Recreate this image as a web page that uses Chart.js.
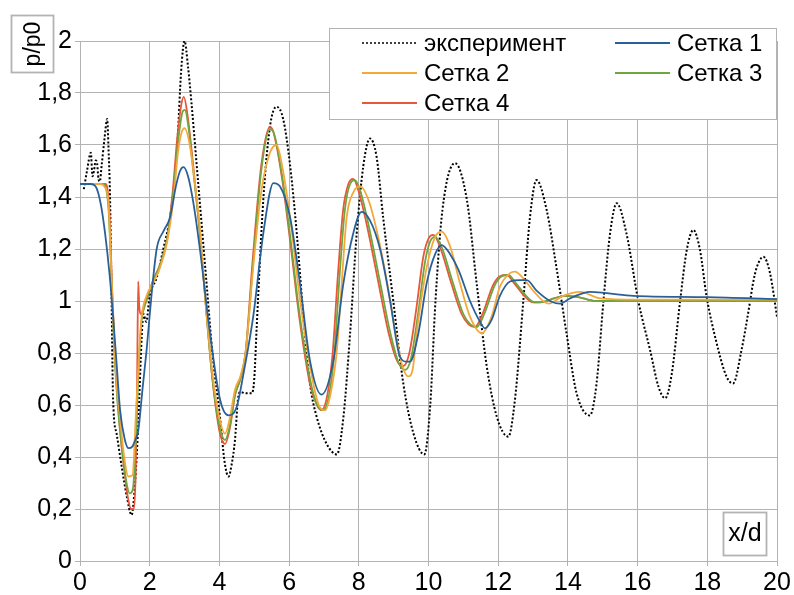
<!DOCTYPE html>
<html>
<head>
<meta charset="utf-8">
<script src="https://cdn.jsdelivr.net/npm/chart.js@4"></script>
<style>
  html, body { margin: 0; padding: 0; background: #fff; }
  canvas { display: block; }
</style>
</head>
<body>
<canvas id="pressureChart" width="794" height="595"></canvas>
<script>
// experiment (dotted black)
const expX = [0.11, 0.2, 0.31, 0.36, 0.4, 0.45, 0.49, 0.53, 0.57, 0.62, 0.7, 0.78, 0.82, 0.86, 0.9, 0.95, 1.05, 1.2, 1.34, 1.48, 1.58, 1.67, 1.77, 1.82, 1.9, 2.0, 2.2, 2.39, 2.58, 2.7, 2.8, 2.9, 3.0, 3.1, 3.2, 3.35, 3.5, 3.63, 3.8, 4.02, 4.15, 4.26, 4.35, 4.45, 4.53, 4.6, 4.75, 4.93, 5.0, 5.07, 5.26, 5.45, 5.64, 5.83, 6.03, 6.22, 6.41, 6.6, 6.79, 7.08, 7.37, 7.56, 7.75, 7.94, 8.13, 8.32, 8.51, 8.7, 8.99, 9.28, 9.57, 9.88, 10.05, 10.2, 10.4, 10.76, 11.1, 11.38, 11.67, 11.96, 12.29, 12.48, 12.72, 12.91, 13.1, 13.39, 13.67, 13.96, 14.25, 14.63, 14.82, 15.02, 15.21, 15.4, 15.68, 16.02, 16.36, 16.6, 16.79, 16.98, 17.22, 17.41, 17.6, 17.79, 17.98, 18.27, 18.55, 18.74, 18.98, 19.23, 19.3, 19.42, 19.61, 19.8, 20.0];
const expY = [1.43, 1.50, 1.57, 1.48, 1.50, 1.54, 1.53, 1.47, 1.46, 1.52, 1.62, 1.70, 1.58, 1.41, 1.07, 0.62, 0.49, 0.36, 0.25, 0.177, 0.30, 0.52, 0.86, 0.95, 0.92, 1.02, 1.09, 1.20, 1.32, 1.45, 1.62, 1.88, 2.0, 1.9, 1.76, 1.52, 1.28, 1.07, 0.8, 0.55, 0.38, 0.325, 0.37, 0.47, 0.62, 0.65, 0.645, 0.645, 0.7, 0.9, 1.39, 1.67, 1.747, 1.70, 1.52, 1.26, 0.94, 0.68, 0.555, 0.45, 0.41, 0.555, 0.876, 1.26, 1.52, 1.625, 1.555, 1.32, 1.0, 0.68, 0.49, 0.41, 0.6, 1.0, 1.35, 1.53, 1.39, 1.07, 0.75, 0.555, 0.478, 0.62, 1.0, 1.32, 1.465, 1.35, 1.13, 0.876, 0.645, 0.56, 0.68, 1.0, 1.26, 1.376, 1.26, 1.0, 0.81, 0.67, 0.626, 0.72, 1.0, 1.196, 1.273, 1.196, 1.017, 0.837, 0.71, 0.683, 0.81, 1.0, 1.06, 1.13, 1.17, 1.107, 0.94];

// Сетка 1 (blue)
const grid1X = [0, 0.3, 0.45, 0.6, 0.72, 0.85, 0.95, 1.05, 1.15, 1.28, 1.39, 1.5, 1.6, 1.67, 1.8, 1.91, 2.05, 2.2, 2.4, 2.58, 2.75, 2.87, 2.97, 3.1, 3.25, 3.44, 3.73, 4.02, 4.26, 4.5, 4.69, 4.97, 5.26, 5.55, 5.74, 6.03, 6.31, 6.6, 6.93, 7.27, 7.56, 7.84, 8.08, 8.32, 8.61, 8.9, 9.18, 9.37, 9.47, 9.71, 9.95, 10.19, 10.38, 10.62, 10.86, 11.19, 11.48, 11.62, 11.81, 12.05, 12.34, 12.63, 12.82, 13.1, 13.49, 13.77, 14.06, 14.44, 14.63, 15.11, 15.88, 18.0, 20.0];
const grid1Y = [1.45, 1.45, 1.44, 1.37, 1.26, 1.1, 0.94, 0.76, 0.58, 0.47, 0.434, 0.44, 0.47, 0.5, 0.67, 0.81, 1.02, 1.2, 1.27, 1.32, 1.44, 1.5, 1.515, 1.48, 1.38, 1.2, 0.876, 0.62, 0.56, 0.594, 0.72, 0.94, 1.26, 1.453, 1.44, 1.32, 1.07, 0.77, 0.64, 0.77, 1.07, 1.26, 1.343, 1.31, 1.2, 1.0, 0.786, 0.767, 0.767, 0.876, 1.07, 1.18, 1.215, 1.18, 1.12, 1.0, 0.92, 0.895, 0.927, 1.02, 1.075, 1.08, 1.08, 1.04, 1.0, 0.99, 1.01, 1.03, 1.035, 1.03, 1.02, 1.015, 1.007];

// Сетка 2 (orange)
const grid2X = [0, 0.6, 0.7, 0.81, 0.88, 0.95, 1.05, 1.15, 1.24, 1.39, 1.51, 1.6, 1.7, 1.77, 1.91, 2.1, 2.3, 2.49, 2.68, 2.82, 2.92, 3.0, 3.15, 3.3, 3.44, 3.6, 3.8, 4.0, 4.16, 4.3, 4.45, 4.6, 4.75, 4.97, 5.2, 5.45, 5.64, 5.8, 6.03, 6.3, 6.6, 6.85, 7.03, 7.2, 7.37, 7.5, 7.65, 7.85, 8.05, 8.3, 8.55, 8.8, 9.05, 9.25, 9.42, 9.55, 9.66, 9.95, 10.19, 10.38, 10.62, 10.9, 11.19, 11.53, 11.81, 12.05, 12.34, 12.48, 12.72, 13.0, 13.44, 13.86, 14.35, 14.92, 16.0, 20.0];
const grid2Y = [1.45, 1.45, 1.44, 1.39, 1.18, 0.94, 0.68, 0.55, 0.43, 0.325, 0.33, 0.555, 0.81, 0.94, 1.02, 1.07, 1.13, 1.22, 1.39, 1.58, 1.65, 1.665, 1.6, 1.45, 1.28, 1.0, 0.72, 0.55, 0.49, 0.55, 0.66, 0.71, 0.8, 1.13, 1.42, 1.57, 1.6, 1.52, 1.32, 1.02, 0.75, 0.6, 0.58, 0.65, 0.81, 1.05, 1.32, 1.42, 1.44, 1.38, 1.25, 1.08, 0.88, 0.75, 0.71, 0.74, 0.876, 1.13, 1.247, 1.267, 1.21, 1.07, 0.94, 0.876, 0.94, 1.055, 1.107, 1.113, 1.087, 1.04, 0.99, 1.02, 1.035, 1.01, 1.005, 1.005];

// Сетка 3 (green)
const grid3X = [0, 0.65, 0.75, 0.82, 0.9, 0.97, 1.05, 1.15, 1.25, 1.35, 1.43, 1.52, 1.6, 1.67, 1.75, 1.85, 1.95, 2.1, 2.3, 2.5, 2.68, 2.82, 2.95, 3.01, 3.1, 3.25, 3.44, 3.6, 3.8, 4.0, 4.16, 4.3, 4.45, 4.6, 4.75, 4.97, 5.2, 5.45, 5.55, 5.8, 6.03, 6.3, 6.6, 6.8, 6.98, 7.15, 7.3, 7.45, 7.6, 7.75, 7.89, 8.05, 8.3, 8.6, 8.9, 9.15, 9.33, 9.5, 9.7, 9.9, 10.05, 10.19, 10.4, 10.7, 11.0, 11.2, 11.38, 11.6, 11.9, 12.1, 12.29, 12.5, 12.8, 13.05, 13.3, 13.6, 13.9, 14.3, 14.8, 20.0];
const grid3Y = [1.45, 1.45, 1.43, 1.35, 1.1, 0.85, 0.66, 0.5, 0.38, 0.29, 0.26, 0.28, 0.45, 0.7, 0.9, 0.98, 1.02, 1.08, 1.14, 1.24, 1.42, 1.62, 1.73, 1.735, 1.68, 1.5, 1.26, 1.0, 0.7, 0.52, 0.465, 0.52, 0.64, 0.7, 0.8, 1.15, 1.5, 1.66, 1.65, 1.48, 1.25, 0.95, 0.7, 0.6, 0.58, 0.64, 0.8, 1.1, 1.35, 1.45, 1.465, 1.42, 1.28, 1.08, 0.88, 0.76, 0.735, 0.78, 0.95, 1.15, 1.23, 1.247, 1.2, 1.07, 0.95, 0.91, 0.9, 0.95, 1.06, 1.095, 1.1, 1.07, 1.02, 0.995, 0.997, 1.01, 1.02, 1.015, 1.0, 1.0];

// Сетка 4 (red)
const grid4X = [0, 0.72, 0.8, 0.86, 0.92, 1.0, 1.08, 1.18, 1.28, 1.38, 1.47, 1.55, 1.6, 1.64, 1.67, 1.7, 1.74, 1.85, 1.95, 2.1, 2.3, 2.5, 2.66, 2.8, 2.9, 2.98, 3.08, 3.25, 3.44, 3.6, 3.8, 4.0, 4.16, 4.3, 4.45, 4.6, 4.75, 4.95, 5.2, 5.45, 5.55, 5.8, 6.03, 6.3, 6.6, 6.8, 6.93, 7.1, 7.25, 7.4, 7.55, 7.7, 7.84, 8.0, 8.25, 8.55, 8.85, 9.1, 9.28, 9.45, 9.65, 9.85, 10.0, 10.14, 10.35, 10.65, 10.95, 11.15, 11.33, 11.55, 11.85, 12.05, 12.25, 12.45, 12.75, 13.0, 13.3, 13.6, 13.9, 14.3, 14.8, 20.0];
const grid4Y = [1.45, 1.45, 1.42, 1.3, 1.05, 0.8, 0.62, 0.46, 0.34, 0.24, 0.2, 0.2, 0.35, 0.7, 1.075, 0.98, 0.95, 0.98, 1.02, 1.08, 1.14, 1.24, 1.42, 1.64, 1.75, 1.785, 1.72, 1.52, 1.26, 1.0, 0.7, 0.5, 0.45, 0.51, 0.64, 0.7, 0.8, 1.15, 1.52, 1.67, 1.65, 1.47, 1.23, 0.93, 0.68, 0.6, 0.58, 0.64, 0.8, 1.1, 1.35, 1.45, 1.47, 1.42, 1.28, 1.08, 0.88, 0.77, 0.75, 0.8, 0.97, 1.17, 1.24, 1.254, 1.2, 1.07, 0.95, 0.91, 0.9, 0.95, 1.06, 1.095, 1.1, 1.07, 1.02, 0.995, 0.997, 1.01, 1.02, 1.015, 1.0, 1.0];

const seriesNames = ['эксперимент', 'Сетка 1', 'Сетка 2', 'Сетка 3', 'Сетка 4'];
const seriesColors = ['#000000', '#2a6099', '#f5a83a', '#6fa640', '#e8573a'];
const xTicks = [0, 2, 4, 6, 8, 10, 12, 14, 16, 18, 20];

const FONT = '"Liberation Sans", Arial, sans-serif';
const GRID = '#b3b3b3';

function toPoints(xs, ys) {
  return xs.map((x, i) => ({ x: x, y: ys[i] }));
}

// legend box + axis title boxes, drawn by hand like the LibreOffice chart
const boxesPlugin = {
  id: 'boxes',
  afterDraw(chart) {
    const ctx = chart.ctx;
    ctx.save();

    // legend
    ctx.fillStyle = '#fff';
    ctx.fillRect(329, 28, 447, 91);
    ctx.strokeStyle = GRID;
    ctx.lineWidth = 1;
    ctx.strokeRect(329.5, 28.5, 447, 91);

    const entries = [
      { i: 0, x: 362, y: 43 },
      { i: 1, x: 615, y: 43 },
      { i: 2, x: 362, y: 73 },
      { i: 3, x: 615, y: 73 },
      { i: 4, x: 362, y: 103 }
    ];
    ctx.font = '24px ' + FONT;
    ctx.textBaseline = 'middle';
    entries.forEach(e => {
      ctx.beginPath();
      ctx.strokeStyle = seriesColors[e.i];
      ctx.lineWidth = e.i === 0 ? 1.5 : 1.8;
      ctx.setLineDash(e.i === 0 ? [2, 2] : []);
      ctx.moveTo(e.x, e.y);
      ctx.lineTo(e.x + 55, e.y);
      ctx.stroke();
      ctx.setLineDash([]);
      ctx.fillStyle = '#000';
      ctx.textAlign = 'left';
      ctx.fillText(seriesNames[e.i], e.x + 62, e.y + 1);
    });

    // y axis title p/p0
    ctx.fillStyle = '#fff';
    ctx.fillRect(11, 15, 42, 57);
    ctx.strokeStyle = GRID;
    ctx.strokeRect(11.5, 15.5, 42, 57);
    ctx.save();
    ctx.translate(33, 44);
    ctx.rotate(-Math.PI / 2);
    ctx.fillStyle = '#000';
    ctx.textAlign = 'center';
    ctx.font = '23px ' + FONT;
    ctx.fillText('p/p0', 0, 1);
    ctx.restore();

    // x axis title x/d
    ctx.fillStyle = '#fff';
    ctx.fillRect(723, 512, 43, 43);
    ctx.strokeStyle = GRID;
    ctx.strokeRect(723.5, 512.5, 43, 43);
    ctx.fillStyle = '#000';
    ctx.textAlign = 'center';
    ctx.font = '25px ' + FONT;
    ctx.fillText('x/d', 745, 534);

    ctx.restore();
  }
};

document.addEventListener('DOMContentLoaded', () => {
  const canvas = document.getElementById('pressureChart');
  if (!canvas) return;
  const ctx = canvas.getContext('2d');

  const lineSets = [
    { xs: grid1X, ys: grid1Y, i: 1 },
    { xs: grid2X, ys: grid2Y, i: 2 },
    { xs: grid3X, ys: grid3Y, i: 3 },
    { xs: grid4X, ys: grid4Y, i: 4 }
  ].map(s => ({
    label: seriesNames[s.i],
    data: toPoints(s.xs, s.ys),
    borderColor: seriesColors[s.i],
    borderWidth: 1.8,
    pointRadius: 0,
    cubicInterpolationMode: 'monotone',
    fill: false
  }));

  lineSets.push({
    label: seriesNames[0],
    data: toPoints(expX, expY),
    borderColor: seriesColors[0],
    borderWidth: 2,
    borderDash: [2, 2],
    pointRadius: 0,
    cubicInterpolationMode: 'monotone',
    fill: false
  });

  new Chart(ctx, {
    type: 'line',
    data: { datasets: lineSets },
    options: {
      responsive: false,
      animation: false,
      layout: { padding: { top: 41, right: 17, left: 0, bottom: 0 } },
      plugins: {
        legend: { display: false },
        tooltip: { enabled: false }
      },
      scales: {
        x: {
          type: 'linear',
          min: 0,
          max: 20,
          afterBuildTicks: scale => { scale.ticks = xTicks.map(v => ({ value: v })); },
          afterFit: scale => { scale.height = 34; },
          grid: { color: GRID, tickLength: 5 },
          border: { color: GRID },
          ticks: {
            color: '#000',
            padding: 2,
            maxRotation: 0,
            font: { family: FONT, size: 25 }
          }
        },
        y: {
          min: 0,
          max: 2,
          afterFit: scale => { scale.width = 80; },
          grid: { color: GRID, tickLength: 5 },
          border: { color: GRID },
          ticks: {
            stepSize: 0.2,
            color: '#000',
            padding: 3,
            font: { family: FONT, size: 25 },
            callback: v => String(Math.round(v * 10) / 10).replace('.', ',')
          }
        }
      }
    },
    plugins: [boxesPlugin]
  });
});
</script>
</body>
</html>
